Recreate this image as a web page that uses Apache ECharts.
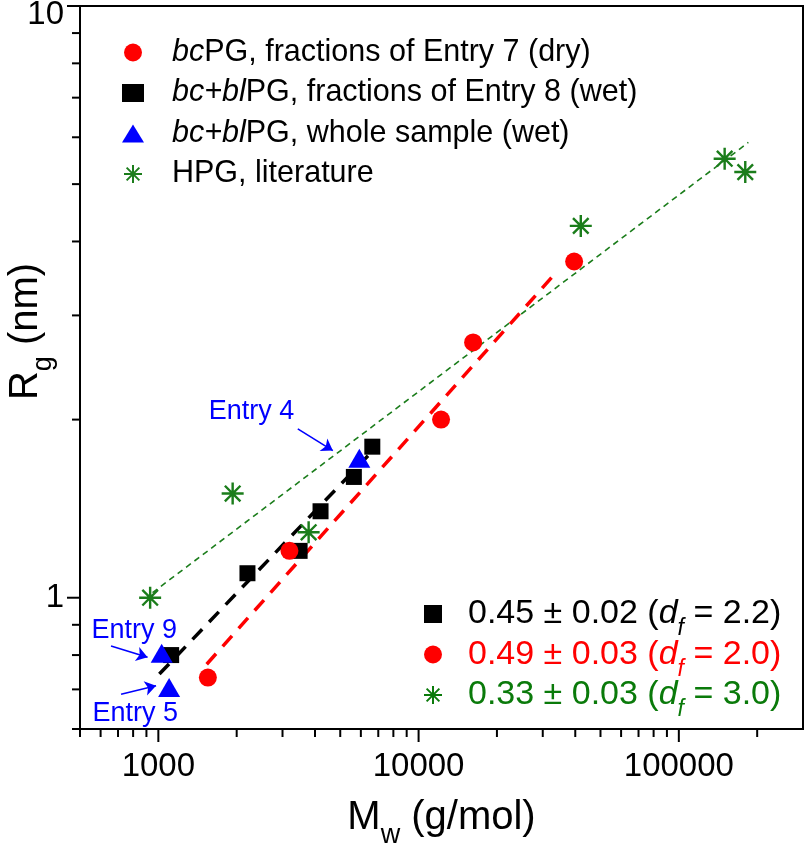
<!DOCTYPE html>
<html>
<head>
<meta charset="utf-8">
<script src="https://cdn.jsdelivr.net/npm/echarts@6/dist/echarts.min.js"></script>
<style>
  html, body { margin: 0; padding: 0; background: #fff; }
  #chart { width: 805px; height: 847px; }
</style>
</head>
<body>
<div id="chart"></div>
<script>
const FONT = '"Liberation Sans", Arial, Helvetica, sans-serif'

// Mw (g/mol), Rg (nm)
const bcPG          = [[1550, 0.733], [3190, 1.20], [12200, 2.00], [16200, 2.70], [39600, 3.70]]
const bcblFractions = [[1120, 0.80], [2200, 1.10], [3490, 1.20], [4200, 1.40], [5640, 1.60], [6640, 1.80]]
const bcblWhole     = [[1030, 0.806], [1100, 0.705], [5920, 1.72]]
const hpgLit        = [[930, 1.00], [1930, 1.50], [3780, 1.29], [42000, 4.25], [150000, 5.52], [180000, 5.24]]

// fitted power laws, end points
const fitBlack = [[1009, 0.743], [6876, 1.797]]
const fitRed   = [[1534, 0.772], [33850, 3.55]]
const fitGreen = [[950, 1.02], [185000, 5.88]]

// axis ticks
const xMajorTicks = [1000, 10000, 100000]
const xMinorTicks = [500, 600, 700, 800, 900, 2000, 3000, 4000, 5000, 6000, 7000, 8000, 9000,
                     20000, 30000, 40000, 50000, 60000, 70000, 80000, 90000, 200000]
const yMajorTicks = [1, 10]
const yMinorTicks = [0.6, 0.7, 0.8, 0.9, 2, 3, 4, 5, 6, 7, 8, 9]

// annotations: text + arrow (from, to)
const entryLabels = [['Entry 4', 2279, 2.064], ['Entry 9', 808, 0.879], ['Entry 5', 816, 0.636]]
const entryArrows = [
  [[3434, 1.929], [4682, 1.773]],
  [[658, 0.829], [909, 0.793]],
  [[719, 0.687], [980, 0.710]],
]

const seriesNames = ['bcPG7', 'bcbl8', 'bcblWhole', 'hpg']
const seriesLabels = [
  '{i|bc}{n|PG, fractions of Entry 7 (dry)}',
  '{i|bc+bl}{n|PG, fractions of Entry 8 (wet)}',
  '{i|bc+bl}{n|PG, whole sample (wet)}',
  '{n|HPG, literature}',
]
const fitNames  = ['fitBlack', 'fitRed', 'fitGreen']
const fitValues = [['0.45', '0.02', '2.2'], ['0.49', '0.03', '2.0'], ['0.33', '0.03', '3.0']]

const RED = '#ff0000', BLACK = '#000000', BLUE = '#0000ff', GREEN = '#1b7d1b', GREEN_TXT = '#0a7a0a'

// 8-armed asterisk, drawn as filled thin bars
const STAR = 'path://M8.9 0L11.1 0L11.1 20L8.9 20Z M0 8.9L20 8.9L20 11.1L0 11.1Z' +
  'M2.15 3.7L3.7 2.15L17.85 16.3L16.3 17.85Z M16.3 2.15L17.85 3.7L3.7 17.85L2.15 16.3Z'

const isDecade = v => Math.abs(Math.log10(v) - Math.round(Math.log10(v))) < 1e-6

const richTop = color => ({
  i: { fontFamily: FONT, fontSize: 30.5, fontStyle: 'italic', color, lineHeight: 30 },
  n: { fontFamily: FONT, fontSize: 30.5, color, lineHeight: 30 },
})
const richFit = color => ({
  n: { fontFamily: FONT, fontSize: 34, color, lineHeight: 34 },
  d: { fontFamily: FONT, fontSize: 34, fontStyle: 'italic', color, lineHeight: 34 },
  s: { fontFamily: FONT, fontSize: 23, fontStyle: 'italic', color, height: 4, verticalAlign: 'bottom' },
})
const richTitle = {
  n: { fontFamily: FONT, fontSize: 40, color: '#000', lineHeight: 40 },
  s: { fontFamily: FONT, fontSize: 27, color: '#000', height: 4, verticalAlign: 'bottom' },
}

const tickData = [
  ...xMajorTicks.map(v => [v, 0.6, 0, 13]),
  ...xMinorTicks.map(v => [v, 0.6, 0, 8]),
  ...yMajorTicks.map(v => [500, v, 1, 13]),
  ...yMinorTicks.map(v => [500, v, 1, 8]),
]

const chart = echarts.init(document.getElementById('chart'))

chart.setOption({
  animation: false,
  backgroundColor: '#fff',
  textStyle: { fontFamily: FONT },
  grid: {
    left: 80, right: 2, top: 6, bottom: 118,
    show: true, borderColor: '#000', borderWidth: 2,
    outerBoundsMode: 'none',
  },
  legend: [
    {
      orient: 'vertical', left: 117, top: 32,
      itemWidth: 22, itemHeight: 18, itemGap: 9.5,
      selectedMode: false,
      textStyle: { fontFamily: FONT, fontSize: 30.5, color: BLACK, padding: [0, 0, 0, 23], lineHeight: 30 },
      formatter: name => seriesLabels[seriesNames.indexOf(name)],
      data: [
        { name: 'bcPG7', icon: 'circle', textStyle: { rich: richTop(BLACK) } },
        { name: 'bcbl8', icon: 'rect', textStyle: { rich: richTop(BLACK) } },
        { name: 'bcblWhole', icon: 'triangle', textStyle: { rich: richTop(BLACK) } },
        { name: 'hpg', icon: STAR, textStyle: { rich: richTop(BLACK) } },
      ],
    },
    {
      orient: 'vertical', left: 419, top: 592,
      itemWidth: 18, itemHeight: 18, itemGap: -3,
      selectedMode: false,
      textStyle: { fontFamily: FONT, fontSize: 34, padding: [0, 0, 0, 21], lineHeight: 34 },
      formatter: name => {
        const [a, b, df] = fitValues[fitNames.indexOf(name)]
        return `{n|${a} ± ${b} (}{d|d}{s|f}{n| = ${df})}`
      },
      data: [
        { name: 'fitBlack', icon: 'rect', textStyle: { color: BLACK, rich: richFit(BLACK) } },
        { name: 'fitRed', icon: 'circle', textStyle: { color: RED, rich: richFit(RED) } },
        { name: 'fitGreen', icon: STAR, textStyle: { color: GREEN_TXT, rich: richFit(GREEN_TXT) } },
      ],
    },
  ],
  xAxis: {
    type: 'log', logBase: 10, min: 500, max: 300000,
    axisLine: { lineStyle: { color: '#000', width: 2 } },
    axisTick: { show: false }, minorTick: { show: false },
    splitLine: { show: false }, minorSplitLine: { show: false },
    axisLabel: {
      color: '#000', fontFamily: FONT, fontSize: 33, margin: 21,
      formatter: v => isDecade(v) ? String(Math.round(v)) : '',
    },
    name: '{n|M}{s|w}{n| (g/mol)}',
    nameLocation: 'middle', nameGap: 69, nameMoveOverlap: false,
    nameTextStyle: { color: '#000', fontSize: 40, lineHeight: 40, rich: richTitle },
  },
  yAxis: {
    type: 'log', logBase: 10, min: 0.6, max: 10,
    axisLine: { lineStyle: { color: '#000', width: 2 } },
    axisTick: { show: false }, minorTick: { show: false },
    splitLine: { show: false }, minorSplitLine: { show: false },
    axisLabel: {
      color: '#000', fontFamily: FONT, fontSize: 33, margin: 16,
      formatter: v => !isDecade(v) ? '' : (Math.round(v) === 10 ? '{t|10}' : String(Math.round(v))),
      rich: { t: { fontFamily: FONT, fontSize: 33, color: '#000', padding: [18, 0, 0, 0] } },
    },
    name: '{n|R}{s|g}{n| (nm)}',
    nameLocation: 'middle', nameGap: 34, nameMoveOverlap: false,
    nameTextStyle: { color: '#000', fontSize: 40, lineHeight: 40, padding: [0, 0, 0, 72], rich: richTitle },
  },
  series: [
    {
      type: 'custom', name: 'ticks', silent: true, clip: false, z: 5,
      encode: { x: 0, y: 1 },
      data: tickData,
      renderItem: (params, api) => {
        const p = api.coord([api.value(0), api.value(1)])
        const len = api.value(3)
        const shape = api.value(2) === 0
          ? { x1: p[0], y1: p[1], x2: p[0], y2: p[1] + len }
          : { x1: p[0], y1: p[1], x2: p[0] - len, y2: p[1] }
        return { type: 'line', shape, style: { stroke: '#000', lineWidth: 2 } }
      },
    },
    {
      type: 'line', name: 'fitGreen', data: fitGreen, symbol: 'none', silent: true,
      color: GREEN_TXT, lineStyle: { color: GREEN, width: 1.6, type: [6, 4.5] }, z: 1,
    },
    {
      type: 'line', name: 'fitBlack', data: fitBlack, symbol: 'none', silent: true,
      color: BLACK, lineStyle: { color: BLACK, width: 3.5, type: [14, 10] }, z: 1,
    },
    {
      type: 'line', name: 'fitRed', data: fitRed, symbol: 'none', silent: true,
      color: RED, lineStyle: { color: RED, width: 3.5, type: [14, 10] }, z: 1,
    },
    {
      type: 'scatter', name: 'bcbl8', data: bcblFractions, symbol: 'rect', symbolSize: 16,
      itemStyle: { color: BLACK, opacity: 1 }, z: 2,
    },
    {
      type: 'scatter', name: 'bcPG7', data: bcPG, symbol: 'circle', symbolSize: 18,
      itemStyle: { color: RED, opacity: 1 }, z: 3,
    },
    {
      type: 'scatter', name: 'hpg', data: hpgLit, symbol: STAR, symbolSize: 22,
      itemStyle: { color: GREEN, opacity: 1 }, z: 3,
    },
    {
      type: 'scatter', name: 'bcblWhole', data: bcblWhole, symbol: 'triangle', symbolSize: [22, 19],
      itemStyle: { color: BLUE, opacity: 1 }, z: 4,
      markLine: {
        silent: true, symbol: ['none', 'arrow'], symbolSize: 11,
        label: { show: false },
        lineStyle: { color: BLUE, width: 1.6, type: 'solid' },
        data: entryArrows.map(([a, b]) => [{ coord: a }, { coord: b }]),
      },
      markPoint: {
        silent: true, symbol: 'rect', symbolSize: 1,
        itemStyle: { color: 'rgba(0,0,0,0)' },
        label: { show: true, position: 'inside', formatter: '{b}', color: BLUE, fontFamily: FONT, fontSize: 27 },
        data: entryLabels.map(([name, x, y]) => ({ name, coord: [x, y] })),
      },
    },
  ],
})
</script>
</body>
</html>
